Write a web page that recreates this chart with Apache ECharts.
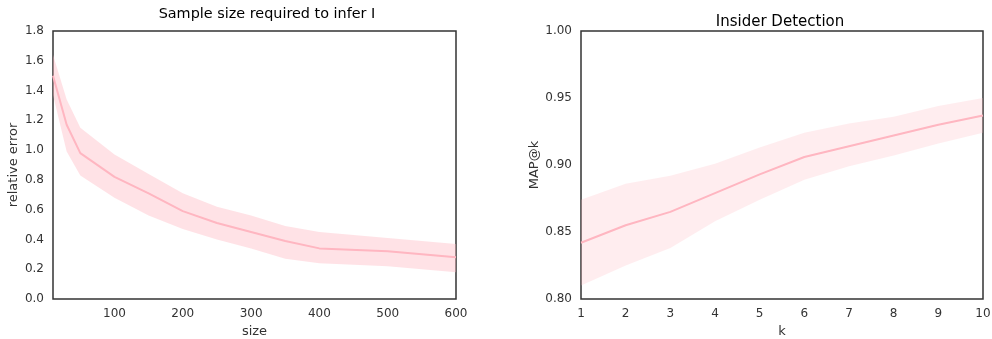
<!DOCTYPE html>
<html><head><meta charset="utf-8">
<script src="https://cdn.jsdelivr.net/npm/echarts@6/dist/echarts.min.js"></script>
<style>html,body{margin:0;padding:0;background:#fff}#c{width:992px;height:339px}</style>
</head><body><div id="c"></div>
<script>
// Left chart: Sample size required to infer I
const sizeX = [10, 30, 50, 100, 150, 200, 250, 300, 350, 400, 500, 600];
const errMean = [1.50, 1.17, 0.98, 0.82, 0.71, 0.59, 0.51, 0.45, 0.39, 0.34, 0.32, 0.28];
const errUpper = [1.64, 1.34, 1.15, 0.97, 0.84, 0.71, 0.62, 0.56, 0.49, 0.45, 0.41, 0.37];
const errLower = [1.37, 0.99, 0.83, 0.68, 0.56, 0.47, 0.40, 0.34, 0.27, 0.24, 0.22, 0.18];
const sizeTicks = [100, 200, 300, 400, 500, 600];
// Right chart: Insider Detection
const kX = [1, 2, 3, 4, 5, 6, 7, 8, 9, 10];
const mapMean = [0.842, 0.855, 0.865, 0.879, 0.893, 0.906, 0.914, 0.922, 0.930, 0.937];
const mapUpper = [0.874, 0.886, 0.892, 0.901, 0.913, 0.924, 0.931, 0.936, 0.944, 0.950];
const mapLower = [0.810, 0.825, 0.838, 0.858, 0.874, 0.889, 0.899, 0.907, 0.916, 0.924];

const FONT = 'DejaVu Sans';
const LINE = '#ffb6c1';
const pairs = (xs, ys) => xs.map((x, i) => [x, ys[i]]);
const bandData = (xs, lo, hi) => xs.map((x, i) => [x, lo[i], hi[i]]);

function bandSeries(xi, xs, lo, hi, color) {
  return {
    type: 'custom', xAxisIndex: xi, yAxisIndex: xi, silent: true, z: 1,
    data: bandData(xs, lo, hi),
    encode: { x: 0, y: [1, 2] },
    renderItem: function (params, api) {
      if (params.dataIndex !== 0) return null;
      const top = xs.map((x, i) => api.coord([x, hi[i]]));
      const bot = xs.map((x, i) => api.coord([x, lo[i]])).reverse();
      return { type: 'polygon', shape: { points: top.concat(bot) }, style: { fill: color }, silent: true };
    }
  };
}

function labelStyle(extra) {
  return Object.assign({ color: '#333', fontFamily: FONT, fontSize: 12, margin: 9 }, extra || {});
}
function axisCommon() {
  return {
    axisLine: { show: false }, axisTick: { show: false }, splitLine: { show: false },
    axisLabel: labelStyle(),
    nameTextStyle: { color: '#333', fontFamily: FONT, fontSize: 13 }
  };
}

const chart = echarts.init(document.getElementById('c'), null, { renderer: 'canvas' });
chart.setOption({
  animation: false,
  title: [
    { text: 'Sample size required to infer I', left: 262, top: 2, textAlign: 'center',
      textStyle: { fontFamily: FONT, fontSize: 14.4, fontWeight: 'normal', color: '#000' } },
    { text: 'Insider Detection', left: 775, top: 10, textAlign: 'center',
      textStyle: { fontFamily: FONT, fontSize: 15, fontWeight: 'normal', color: '#000' } }
  ],
  grid: [
    { left: 53, right: 536, top: 31, bottom: 40, show: true, borderColor: '#333', borderWidth: 1.5,
      outerBoundsMode: 'none', containLabel: false },
    { left: 581, right: 9, top: 31, bottom: 40, show: true, borderColor: '#333', borderWidth: 1.5,
      outerBoundsMode: 'none', containLabel: false }
  ],
  xAxis: [
    Object.assign(axisCommon(), { type: 'value', gridIndex: 0, min: 10, max: 600, name: 'size',
      nameLocation: 'middle', nameGap: 26, axisLabel: labelStyle({ customValues: sizeTicks }) }),
    Object.assign(axisCommon(), { type: 'value', gridIndex: 1, min: 1, max: 10, interval: 1, name: 'k',
      nameLocation: 'middle', nameGap: 26 })
  ],
  yAxis: [
    Object.assign(axisCommon(), { type: 'value', gridIndex: 0, min: 0, max: 1.8, interval: 0.2,
      name: 'relative error', nameLocation: 'middle', nameGap: 33,
      axisLabel: labelStyle({ formatter: v => v.toFixed(1) }) }),
    Object.assign(axisCommon(), { type: 'value', gridIndex: 1, min: 0.8, max: 1.0, interval: 0.05,
      name: 'MAP@k', nameLocation: 'middle', nameGap: 40,
      axisLabel: labelStyle({ formatter: v => v.toFixed(2) }) })
  ],
  series: [
    bandSeries(0, sizeX, errLower, errUpper, 'rgba(255,182,193,0.4)'),
    { type: 'line', xAxisIndex: 0, yAxisIndex: 0, data: pairs(sizeX, errMean), z: 2,
      symbol: 'none', lineStyle: { color: LINE, width: 2 } },
    bandSeries(1, kX, mapLower, mapUpper, 'rgba(255,182,193,0.25)'),
    { type: 'line', xAxisIndex: 1, yAxisIndex: 1, data: pairs(kX, mapMean), z: 2,
      symbol: 'none', lineStyle: { color: LINE, width: 2 } }
  ]
});
</script></body></html>
